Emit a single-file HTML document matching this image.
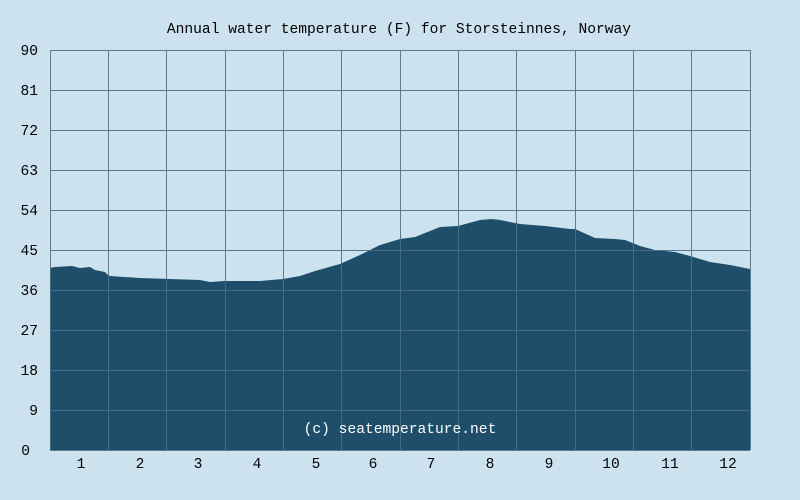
<!DOCTYPE html>
<html><head><meta charset="utf-8"><style>
html,body{margin:0;padding:0;background:#cce3ef;}
svg{display:block;}
text{font-family:"Liberation Mono","DejaVu Sans Mono",monospace;font-size:14.6px;fill:#000;}
</style></head><body>
<svg width="800" height="500" viewBox="0 0 800 500" xmlns="http://www.w3.org/2000/svg">
<rect width="800" height="500" fill="#cce3ef"/>
<text x="399" y="33" text-anchor="middle">Annual water temperature (F) for Storsteinnes, Norway</text>
<polygon fill="#1f4e6b" points="50,450 50,268 55,267 72,266 80,268 90,267 95,270 105,272 108,275 110,276 140,278 200,280 210,282 225,281 260,281 283,279 300,276 315,271 340,264 360,255 380,245 400,239 415,237 440,227 458,226 480,220 492,219 500,220 520,224 545,226 570,229 575,229 595,238 615,239 625,240 640,246 655,250 675,252 690,256 710,262 730,265 750,269 750,450"/>
<g stroke="#4d7089" stroke-width="1" opacity="0.9">
<line x1="50" y1="50.5" x2="750" y2="50.5"/><line x1="50" y1="90.5" x2="750" y2="90.5"/><line x1="50" y1="130.5" x2="750" y2="130.5"/><line x1="50" y1="170.5" x2="750" y2="170.5"/><line x1="50" y1="210.5" x2="750" y2="210.5"/><line x1="50" y1="250.5" x2="750" y2="250.5"/><line x1="50" y1="290.5" x2="750" y2="290.5"/><line x1="50" y1="330.5" x2="750" y2="330.5"/><line x1="50" y1="370.5" x2="750" y2="370.5"/><line x1="50" y1="410.5" x2="750" y2="410.5"/><line x1="50" y1="450.5" x2="750" y2="450.5"/>
<line x1="50.5" y1="50" x2="50.5" y2="450"/><line x1="108.5" y1="50" x2="108.5" y2="450"/><line x1="166.5" y1="50" x2="166.5" y2="450"/><line x1="225.5" y1="50" x2="225.5" y2="450"/><line x1="283.5" y1="50" x2="283.5" y2="450"/><line x1="341.5" y1="50" x2="341.5" y2="450"/><line x1="400.5" y1="50" x2="400.5" y2="450"/><line x1="458.5" y1="50" x2="458.5" y2="450"/><line x1="516.5" y1="50" x2="516.5" y2="450"/><line x1="575.5" y1="50" x2="575.5" y2="450"/><line x1="633.5" y1="50" x2="633.5" y2="450"/><line x1="691.5" y1="50" x2="691.5" y2="450"/><line x1="750.5" y1="50" x2="750.5" y2="450"/>
</g>
<g text-anchor="end">
<text x="38" y="55">90</text><text x="38" y="95">81</text><text x="38" y="135">72</text><text x="38" y="175">63</text><text x="38" y="215">54</text><text x="38" y="255">45</text><text x="38" y="295">36</text><text x="38" y="335">27</text><text x="38" y="375">18</text><text x="38" y="415">9</text><text x="30" y="455">0</text>
</g>
<g text-anchor="middle">
<text x="81" y="468">1</text><text x="140" y="468">2</text><text x="198" y="468">3</text><text x="257" y="468">4</text><text x="316" y="468">5</text><text x="373" y="468">6</text><text x="431" y="468">7</text><text x="490" y="468">8</text><text x="549" y="468">9</text><text x="611" y="468">10</text><text x="670" y="468">11</text><text x="728" y="468">12</text>
</g>
<text x="400" y="433" text-anchor="middle" style="fill:#fff">(c) seatemperature.net</text>
</svg>
</body></html>
